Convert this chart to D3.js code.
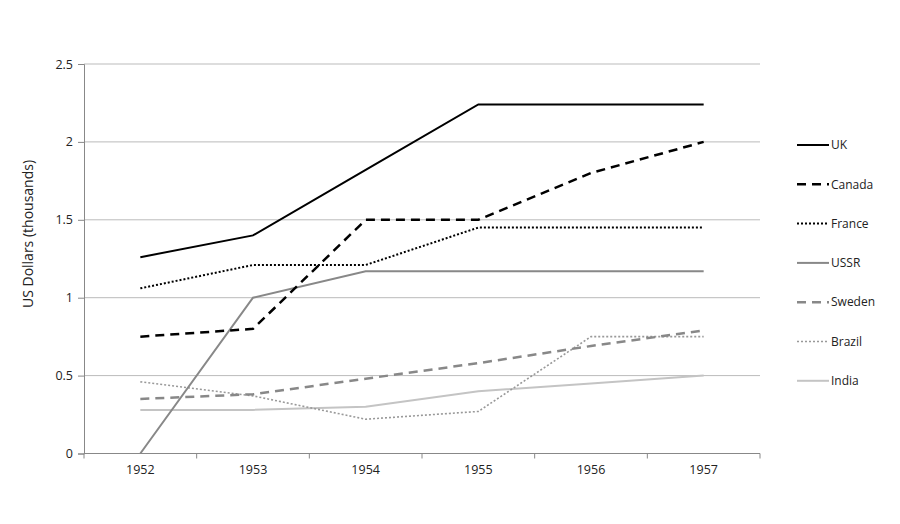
<!DOCTYPE html>
<html><head><meta charset="utf-8">
<script src="https://cdn.jsdelivr.net/npm/d3@7"></script>
<style>body{margin:0;background:#fff}svg{display:block}text{font-family:"Open Sans",Lato,sans-serif;fill:#222}</style>
</head><body><svg id="c" width="900" height="524"></svg>
<script>
const years = ["1952","1953","1954","1955","1956","1957"];
const seriesNames = ["UK","Canada","France","USSR","Sweden","Brazil","India"];
const uk = [1.26,1.40,1.82,2.24,2.24,2.24];
const canada = [0.75,0.80,1.50,1.50,1.80,2.00];
const france = [1.06,1.21,1.21,1.45,1.45,1.45];
const ussr = [0.00,1.00,1.17,1.17,1.17,1.17];
const sweden = [0.35,0.38,0.48,0.58,0.69,0.79];
const brazil = [0.46,0.37,0.22,0.27,0.75,0.75];
const india = [0.28,0.28,0.30,0.40,0.45,0.50];
const yTicks = [0,0.5,1,1.5,2,2.5];
const yTickLabels = ["0","0.5","1","1.5","2","2.5"];

const styles = {
  UK:{c:"#000",w:2,d:null},
  Canada:{c:"#000",w:2.5,d:"9,6"},
  France:{c:"#000",w:2,d:"2,2"},
  USSR:{c:"#888",w:2,d:null},
  Sweden:{c:"#888",w:2.5,d:"9,6"},
  Brazil:{c:"#999",w:1.6,d:"2,2"},
  India:{c:"#c4c4c4",w:2,d:null}
};
const data = [uk,canada,france,ussr,sweden,brazil,india];

const svg = d3.select("#c");
const L=84,R=760,T=64,B=453.5;
const x = d3.scaleBand().domain(years).range([L,R]);
const y = d3.scaleLinear().domain([0,2.5]).range([B,T]);

svg.append("g").selectAll("line").data(yTicks.filter(v=>v>0)).join("line")
  .attr("x1",L).attr("x2",R).attr("y1",d=>y(d)).attr("y2",d=>y(d))
  .attr("stroke","#bbb").attr("stroke-width",1);

const ya = svg.append("g").attr("transform",`translate(${L},0)`)
  .call(d3.axisLeft(y).tickValues(yTicks).tickFormat((d,i)=>yTickLabels[i]).tickSize(6).tickPadding(5));
ya.select(".domain").attr("stroke","#888");
ya.selectAll(".tick line").attr("stroke","#888");
ya.selectAll("text").style("font-size","12.5px").attr("fill","#222");

const xa = svg.append("g").attr("transform",`translate(0,${B})`)
  .call(d3.axisBottom(x).tickSize(0).tickPadding(12));
xa.select(".domain").remove();
xa.selectAll("text").style("font-size","12.5px").attr("fill","#222");
svg.append("line").attr("x1",L).attr("x2",R).attr("y1",B).attr("y2",B).attr("stroke","#888");
svg.append("g").selectAll("line").data(years.concat(["end"])).join("line")
  .attr("x1",(d,i)=>L+i*x.step()).attr("x2",(d,i)=>L+i*x.step())
  .attr("y1",B).attr("y2",B+5).attr("stroke","#888");

svg.append("text").attr("transform",`translate(28,234) rotate(-90)`)
  .attr("text-anchor","middle").attr("dy","0.35em").style("font-size","14px").text("US Dollars (thousands)");

const line = d3.line().x((d,i)=>x(years[i])+x.bandwidth()/2).y(d=>y(d));
seriesNames.slice().reverse().forEach(name=>{
  const i = seriesNames.indexOf(name);
  const s = styles[name];
  svg.append("path").datum(data[i]).attr("d",line).attr("fill","none")
    .attr("stroke",s.c).attr("stroke-width",s.w).attr("stroke-dasharray",s.d);
});

const lg = svg.append("g");
seriesNames.forEach((name,i)=>{
  const s = styles[name];
  const yy = 145 + i*39.3;
  lg.append("line").attr("x1",797).attr("x2",829).attr("y1",yy).attr("y2",yy)
    .attr("stroke",s.c).attr("stroke-width",s.w).attr("stroke-dasharray",s.d);
  lg.append("text").attr("x",831).attr("y",yy).attr("dy","0.35em").style("font-size","12px").text(name);
});
</script></body></html>
